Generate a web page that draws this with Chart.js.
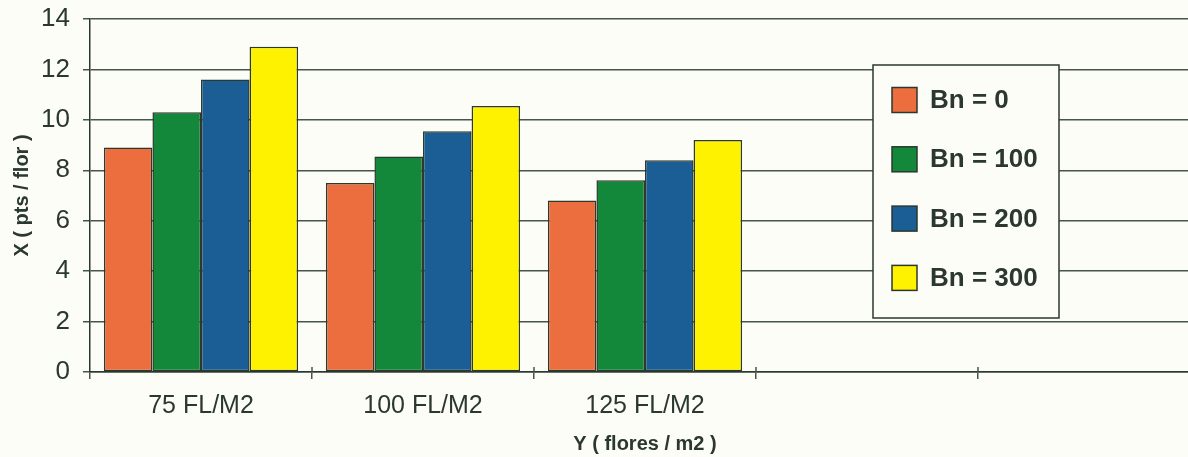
<!DOCTYPE html>
<html>
<head>
<meta charset="utf-8">
<script src="https://cdn.jsdelivr.net/npm/chart.js@4"></script>
<style>
    html, body { margin: 0; padding: 0; background: #fdfdf8; overflow: hidden; }
    #wrap { width: 1200px; height: 457px; }
</style>
</head>
<body>
<div id="wrap"><canvas id="barChart" width="1200" height="457"></canvas></div>
<script>
// Data
const categories = ['75 FL/M2', '100 FL/M2', '125 FL/M2', '', ''];
const seriesNames = ['Bn = 0', 'Bn = 100', 'Bn = 200', 'Bn = 300'];
const bn0 = [8.9, 7.5, 6.8];
const bn100 = [10.3, 8.55, 7.6];
const bn200 = [11.6, 9.55, 8.4];
const bn300 = [12.9, 10.55, 9.2];
const yTicks = [0, 2, 4, 6, 8, 10, 12, 14];

const colors = ['#ec6e3e', '#13883a', '#1b5e95', '#fff200'];
const ink = '#2b382f';
const gridInk = '#46554d';

// Boxed legend drawn over the plot, like the original
const boxLegend = {
    id: 'boxLegend',
    afterDraw(chart) {
        const ctx = chart.ctx;
        const x = 873, y = 65, w = 186, h = 253;
        ctx.save();
        ctx.fillStyle = '#fdfdf8';
        ctx.fillRect(x, y, w, h);
        ctx.strokeStyle = ink;
        ctx.lineWidth = 1.5;
        ctx.strokeRect(x, y, w, h);
        chart.data.datasets.forEach((ds, i) => {
            const cy = 100 + i * 59.3;
            ctx.fillStyle = ds.backgroundColor;
            ctx.fillRect(892, cy - 12.5, 25, 25);
            ctx.strokeRect(892, cy - 12.5, 25, 25);
            ctx.fillStyle = ink;
            ctx.font = 'bold 26px "Liberation Sans", Arial, sans-serif';
            ctx.textBaseline = 'middle';
            ctx.fillText(ds.label, 930, cy + 1);
        });
        ctx.restore();
    }
};

// x-axis tick marks in the original cross the axis line
const crossTicks = {
    id: 'crossTicks',
    afterDraw(chart) {
        const ctx = chart.ctx;
        const xs = chart.scales.x;
        const bottom = chart.chartArea.bottom;
        ctx.save();
        ctx.strokeStyle = gridInk;
        ctx.lineWidth = 1.5;
        for (let i = 1; i < categories.length; i++) {
            const px = (xs.getPixelForTick(i - 1) + xs.getPixelForTick(i)) / 2;
            ctx.beginPath();
            ctx.moveTo(px, bottom - 5);
            ctx.lineTo(px, bottom);
            ctx.stroke();
        }
        ctx.restore();
    }
};

const ctx = document.getElementById('barChart').getContext('2d');
const chart = new Chart(ctx, {
    type: 'bar',
    data: {
        labels: categories,
        datasets: [bn0, bn100, bn200, bn300].map((vals, i) => ({
            label: seriesNames[i],
            data: vals,
            backgroundColor: colors[i],
            borderColor: '#2a3a2c',
            borderWidth: 1.5,
            borderSkipped: false,
            categoryPercentage: 0.875,
            barPercentage: 1
        }))
    },
    options: {
        responsive: false,
        devicePixelRatio: 1,
        animation: false,
        layout: { padding: { top: 19, left: 0, right: 0, bottom: 0 } },
        plugins: {
            legend: { display: false },
            tooltip: { enabled: false }
        },
        scales: {
            x: {
                offset: true,
                grid: {
                    offset: true,
                    drawOnChartArea: false,
                    drawTicks: true,
                    tickLength: 7,
                    color: gridInk,
                    lineWidth: 1.5
                },
                border: { display: true, color: ink, width: 1.5 },
                ticks: {
                    color: ink,
                    padding: 12,
                    maxRotation: 0,
                    font: { family: '"Liberation Sans", Arial, sans-serif', size: 25 }
                },
                title: {
                    display: true,
                    text: 'Y ( flores / m2 )',
                    color: ink,
                    padding: { top: 4, bottom: 1 },
                    font: { family: '"Liberation Sans", Arial, sans-serif', size: 20, weight: 'bold' }
                },
                afterFit(scale) { scale.height = 85; }
            },
            y: {
                min: 0,
                max: 14,
                afterBuildTicks(scale) { scale.ticks = yTicks.map(v => ({ value: v })); },
                grid: {
                    color: gridInk,
                    lineWidth: 1.5,
                    tickLength: 7
                },
                border: { display: true, color: ink, width: 1.5 },
                ticks: {
                    color: ink,
                    padding: 13,
                    font: { family: '"Liberation Sans", Arial, sans-serif', size: 26 }
                },
                title: {
                    display: true,
                    text: 'X ( pts / flor )',
                    color: ink,
                    padding: { top: 10, bottom: 0 },
                    font: { family: '"Liberation Sans", Arial, sans-serif', size: 20, weight: 'bold' }
                },
                afterFit(scale) {
                    scale.width = 90;
                    scale.paddingTop = 0;
                    scale.paddingBottom = 0;
                }
            }
        }
    },
    plugins: [boxLegend, crossTicks]
});
</script>
</body>
</html>
